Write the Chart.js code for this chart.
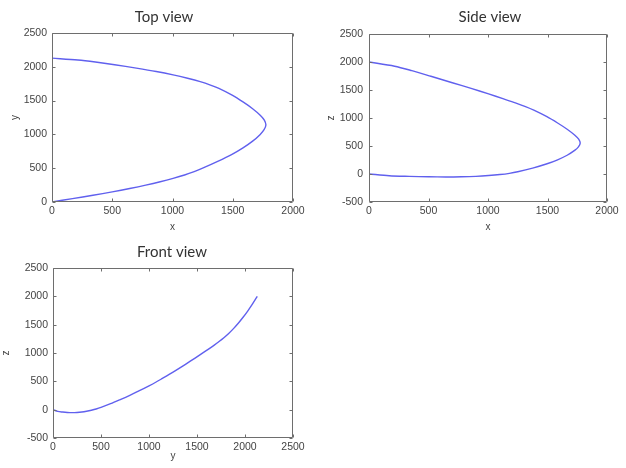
<!DOCTYPE html>
<html><head><meta charset="utf-8">
<script src="https://cdn.jsdelivr.net/npm/chart.js@4.4.1/dist/chart.umd.min.js"></script>
<style>
html,body{margin:0;padding:0;background:#fff;}
body{width:626px;height:468px;position:relative;overflow:hidden;}
.box{position:absolute;}
</style></head><body>
<div class="box" style="left:0;top:0;width:310px;height:235px"><canvas id="cTop"></canvas></div>
<div class="box" style="left:310px;top:0;width:316px;height:235px"><canvas id="cSide"></canvas></div>
<div class="box" style="left:0;top:235px;width:310px;height:233px"><canvas id="cFront"></canvas></div>
<script>
// Trajectory coordinates (read from the three projections)
const xs = [0, 170, 340, 500, 645, 778, 898, 1005, 1100, 1180, 1250, 1375, 1490, 1585, 1665, 1728, 1760, 1775, 1762, 1730, 1665, 1585, 1495, 1385, 1315, 1230, 1125, 1005, 865, 700, 520, 360, 215, 0];
const ys = [0, 50, 100, 150, 200, 250, 300, 350, 400, 450, 500, 600, 700, 800, 900, 1000, 1070, 1140, 1210, 1280, 1380, 1480, 1580, 1680, 1730, 1780, 1830, 1880, 1930, 1980, 2030, 2070, 2100, 2128];
const zs = [0, -30, -42, -50, -53, -50, -42, -28, -10, 12, 40, 105, 178, 254, 335, 421, 484, 552, 621, 693, 800, 911, 1024, 1140, 1203, 1270, 1345, 1430, 1525, 1630, 1745, 1845, 1925, 2000];

// Tick labels
const topXTicks = [0, 500, 1000, 1500, 2000];
const topYTicks = [0, 500, 1000, 1500, 2000, 2500];
const sideXTicks = [0, 500, 1000, 1500, 2000];
const sideZTicks = [-500, 0, 500, 1000, 1500, 2000, 2500];
const frontYTicks = [0, 500, 1000, 1500, 2000, 2500];
const frontZTicks = [-500, 0, 500, 1000, 1500, 2000, 2500];

const titles = ['Top view', 'Side view', 'Front view'];

const LINE = 'rgb(96,96,238)';
const AXIS = '#6e6e6e';
const TXT = '#444';

const boxPlugin = {
  id: 'matBox',
  afterDatasetsDraw(chart) {
    const {ctx, chartArea, scales} = chart;
    const L = Math.round(chartArea.left) + 0.5, R = Math.round(chartArea.right) - 0.5;
    const T = Math.round(chartArea.top) + 0.5, B = Math.round(chartArea.bottom) - 0.5;
    const tl = 3;
    ctx.save();
    ctx.strokeStyle = AXIS; ctx.lineWidth = 1;
    ctx.beginPath();
    ctx.rect(L, T, R - L, B - T);
    scales.x.ticks.forEach(t => {
      const px = Math.round(scales.x.getPixelForValue(t.value)) + 0.5;
      ctx.moveTo(px, B); ctx.lineTo(px, B - tl);
      ctx.moveTo(px, T); ctx.lineTo(px, T + tl);
    });
    scales.y.ticks.forEach(t => {
      const py = Math.round(scales.y.getPixelForValue(t.value)) + 0.5;
      ctx.moveTo(L, py); ctx.lineTo(L + tl, py);
      ctx.moveTo(R, py); ctx.lineTo(R - tl, py);
    });
    ctx.stroke();
    ctx.restore();
  }
};

const viewTitle = {
  id: 'viewTitle',
  afterDraw(chart, args, opts) {
    const ctx = chart.ctx;
    ctx.save();
    ctx.font = '15px Lato, "Open Sans", sans-serif';
    ctx.fillStyle = '#333';
    ctx.textAlign = 'center';
    ctx.textBaseline = 'middle';
    ctx.fillText(opts.text, opts.x, opts.y);
    ctx.restore();
  }
};

function makeChart(id, hs, vs, hTicks, vTicks, hName, vName, cfg) {
  const pts = hs.map((h, i) => ({x: h, y: vs[i]}));
  const tickFont = {family: '"Liberation Sans", Arial, sans-serif', size: 10.5};
  const titleFont = {family: '"Liberation Sans", Arial, sans-serif', size: 10};
  const fmt = v => String(v);
  return new Chart(document.getElementById(id), {
    type: 'line',
    data: {datasets: [{data: pts, borderColor: LINE, borderWidth: 1.4, pointRadius: 0, tension: 0.3, fill: false}]},
    options: {
      responsive: true, maintainAspectRatio: false, animation: false, devicePixelRatio: 1,
      layout: {padding: {top: cfg.top, right: cfg.right, left: 0, bottom: 0}},
      plugins: {legend: {display: false}, tooltip: {enabled: false}, title: {display: false},
        viewTitle: {text: cfg.title, x: cfg.tx, y: cfg.ty}},
      scales: {
        x: {
          type: 'linear', min: hTicks[0], max: hTicks[hTicks.length - 1],
          grid: {display: false, drawTicks: false}, border: {display: false},
          ticks: {stepSize: hTicks[1] - hTicks[0], color: TXT, font: tickFont, padding: 3, maxRotation: 0, autoSkip: false, callback: fmt},
          title: {display: true, text: hName, color: TXT, font: titleFont, padding: {top: 0, bottom: cfg.xTitlePad}},
          afterFit(s) { s.height = cfg.xh; }
        },
        y: {
          type: 'linear', min: vTicks[0], max: vTicks[vTicks.length - 1],
          grid: {display: false, drawTicks: false}, border: {display: false},
          ticks: {stepSize: vTicks[1] - vTicks[0], color: TXT, font: tickFont, padding: cfg.yTickPad, autoSkip: false, callback: fmt},
          title: {display: true, text: vName, color: TXT, font: titleFont, padding: {top: cfg.yTitlePad, bottom: 0}},
          afterFit(s) { s.width = cfg.yw; }
        }
      }
    },
    plugins: [boxPlugin, viewTitle]
  });
}

makeChart('cTop', xs, ys, topXTicks, topYTicks, 'x', 'y',
  {top: 33, right: 17, xh: 33, yw: 52, xTitlePad: 2, yTitlePad: 9, yTickPad: 5, title: titles[0], tx: 164, ty: 17});
makeChart('cSide', xs, zs, sideXTicks, sideZTicks, 'x', 'z',
  {top: 34, right: 19, xh: 33, yw: 59, xTitlePad: 2, yTitlePad: 15, yTickPad: 6, title: titles[1], tx: 180, ty: 17});
makeChart('cFront', ys, zs, frontYTicks, frontZTicks, 'y', 'z',
  {top: 33, right: 17, xh: 30, yw: 53, xTitlePad: 6, yTitlePad: 0, yTickPad: 5, title: titles[2], tx: 172, ty: 17});
</script>
</body></html>
